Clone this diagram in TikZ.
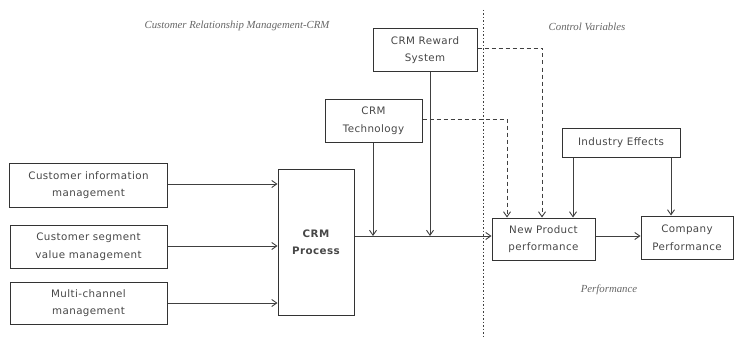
\documentclass[tikz,border=0pt]{standalone}
\usepackage{fontspec}
\setmainfont{DejaVu Sans}
\newfontfamily\boxfont[LetterSpace=4]{DejaVu Sans}
\newfontfamily\lblfont{Liberation Serif}
\usetikzlibrary{arrows.meta}
\begin{document}
\begin{tikzpicture}[x=1pt,y=-1pt,
  box/.style={draw=black!80,line width=1pt,align=center,inner sep=0pt,font=\boxfont\fontsize{10.3}{17.5}\selectfont,text=black!72},
  conn/.style={draw=black!75,line width=0.9pt,-{Straight Barb[length=5pt,width=7pt]}},
  dconn/.style={conn,dashed,dash pattern=on 4pt off 3pt},
  lbl/.style={font=\lblfont\itshape\fontsize{10.8}{12}\selectfont,text=black!60}]
\useasboundingbox (0,0) rectangle (738,337);
\node[box,minimum width=158pt,minimum height=44pt] (cim) at (88.5,185) {Customer information\\management};
\node[box,minimum width=157pt,minimum height=43pt] (csv) at (88.5,246.5) {Customer segment\\value management};
\node[box,minimum width=157pt,minimum height=42pt] (mcm) at (88.5,303) {Multi-channel\\management};
\node[box,minimum width=76pt,minimum height=146pt,font=\boxfont\bfseries\fontsize{10.3}{17.5}\selectfont] (crm) at (316,242) {CRM\\Process};
\node[box,minimum width=104pt,minimum height=42pt] (rew) at (425,50) {CRM Reward\\System};
\node[box,minimum width=97pt,minimum height=43pt] (tech) at (373.5,120.5) {CRM\\Technology};
\node[box,minimum width=118pt,minimum height=29pt] (ind) at (621,142.5) {Industry Effects};
\node[box,minimum width=103pt,minimum height=42pt] (npp) at (543.5,239) {New Product\\performance};
\node[box,minimum width=92pt,minimum height=43pt] (cp) at (687,237.5) {Company\\Performance};
\node[lbl] (l1) at (237,26) {Customer Relationship Management-CRM};
\node[lbl] (l2) at (587,27) {Control Variables};
\node[lbl] (l3) at (609,290) {Performance};
\coordinate (dtop) at (483,10);
\coordinate (dbot) at (483,337);
\draw[black!75,line width=0.9pt,dash pattern=on 1.5pt off 2pt] (dtop) -- (dbot);
\draw[conn] (cim.east |- 0,184) -- (crm.west |- 0,184);
\draw[conn] (csv.east |- 0,246) -- (crm.west |- 0,246);
\draw[conn] (mcm.east |- 0,303) -- (crm.west |- 0,303);
\draw[conn] (crm.east |- 0,236) -- (npp.west |- 0,236);
\coordinate (j1) at (373,236);
\coordinate (j2) at (430,236);
\draw[conn] (tech.south -| j1) -- (j1);
\draw[conn] (rew.south -| j2) -- (j2);
\draw[conn] (npp.east |- 0,236) -- (cp.west |- 0,236);
\draw[conn] (ind.south -| 573,0) -- (npp.north -| 573,0);
\draw[conn] (ind.south -| 671,0) -- (cp.north -| 671,0);
\draw[dconn] (rew.east |- 0,48) -| (npp.north -| 542,0);
\draw[dconn] (tech.east |- 0,119) -| (npp.north -| 507,0);
\end{tikzpicture}
\end{document}
